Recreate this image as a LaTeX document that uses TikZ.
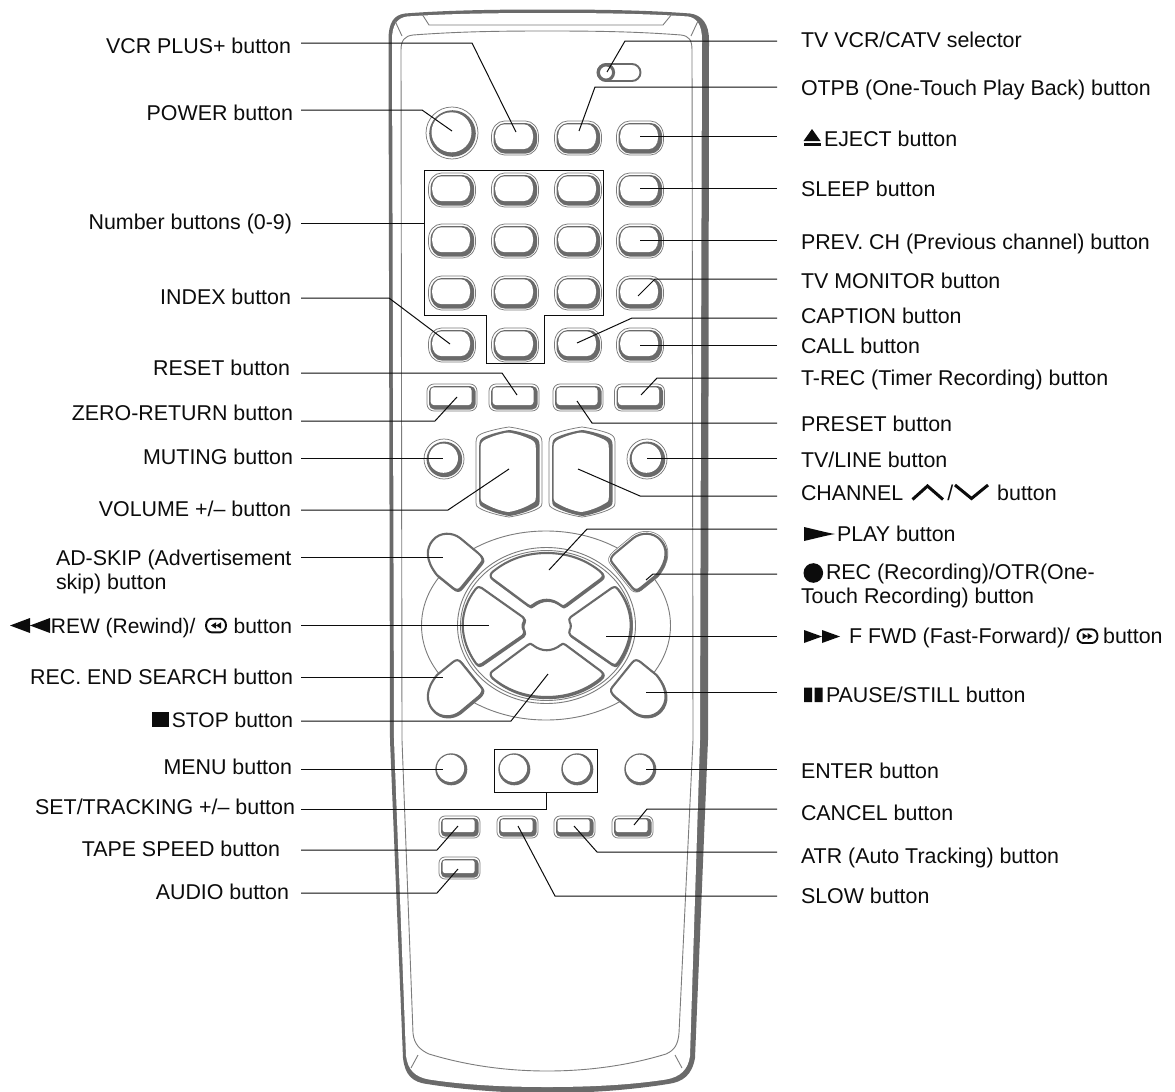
\documentclass[tikz,border=0pt]{standalone}
\usepackage{fontspec}
\setmainfont{Liberation Sans}
\definecolor{rimc}{HTML}{6A6A6A}
\definecolor{thinc}{HTML}{7C7C7C}
\definecolor{inkc}{HTML}{0C0C0C}
% rounded box shape, cx cy halfw halfh rx ry
\newcommand\rbox[6]{({#1-#3+#5},{#2-#4}) -- ({#1+#3-#5},{#2-#4})
 .. controls ({#1+#3-.45*#5},{#2-#4}) and ({#1+#3},{#2-#4+.45*#6}) .. ({#1+#3},{#2-#4+#6}) -- ({#1+#3},{#2+#4-#6})
 .. controls ({#1+#3},{#2+#4-.45*#6}) and ({#1+#3-.45*#5},{#2+#4}) .. ({#1+#3-#5},{#2+#4}) -- ({#1-#3+#5},{#2+#4})
 .. controls ({#1-#3+.45*#5},{#2+#4}) and ({#1-#3},{#2+#4-.45*#6}) .. ({#1-#3},{#2+#4-#6}) -- ({#1-#3},{#2-#4+#6})
 .. controls ({#1-#3},{#2-#4+.45*#6}) and ({#1-#3+.45*#5},{#2-#4}) .. ({#1-#3+#5},{#2-#4}) -- cycle}
% double-ring button: cx cy halfw halfh rx ry
\newcommand\rbtn[6]{
 \draw[thinline,fill=white] \rbox{#1}{#2}{#3}{#4}{#5}{#6};
 \fill[rimc] \rbox{#1+.3}{#2+.3}{(#3-1.7)}{(#4-1.7)}{(#5-1.5)}{(#6-1.5)};
 \fill[white] \rbox{#1-.9}{#2-1.3}{(#3-4.6)}{(#4-4.6)}{(#5-3.8)}{(#6-3.8)};}
\newcommand\pill[2]{\rbtn{#1}{#2}{23.5}{17}{13}{15}}
\newcommand\rectb[2]{\rbtn{#1}{#2}{25}{13.5}{7}{7}}
\newcommand\smallb[2]{\rbtn{#1}{#2}{20.5}{11}{6}{6}}
\newcommand\ringc[3]{
 \draw[thinline,fill=white] (#1,#2) circle (#3);
 \fill[rimc] (#1+.4,#2+.4) circle (#3-2.2);
 \fill[white] (#1-.6,#2-.8) circle (#3-5.4);}
\newcommand\plainc[2]{
 \fill[rimc] (#1+.3,#2+.3) circle (16);
 \fill[white] (#1-.5,#2-.7) circle (13.6);}
% volume/channel shape: cx a t b
\newcommand\vshape[4]{(#1-#2,#3+16) .. controls (#1-#2,#3+11) and (#1-#2+1,#3+9) .. (#1-#2+5,#3+7)
 .. controls (#1-#2+10,#3+4.5) and (#1-8,#3+1) .. (#1,#3)
 .. controls (#1+8,#3+1) and (#1+#2-10,#3+4.5) .. (#1+#2-5,#3+7)
 .. controls (#1+#2-1,#3+9) and (#1+#2,#3+11) .. (#1+#2,#3+16) -- (#1+#2,#4-15)
 .. controls (#1+#2,#4-11) and (#1+#2-1,#4-10) .. (#1+#2-5,#4-8)
 .. controls (#1+#2-10,#4-5) and (#1+8,#4-1) .. (#1,#4)
 .. controls (#1-8,#4-1) and (#1-#2+10,#4-5) .. (#1-#2+5,#4-8)
 .. controls (#1-#2+1,#4-10) and (#1-#2,#4-11) .. (#1-#2,#4-15) -- cycle}
\newcommand\volb[1]{
 \draw[thinline,fill=white] \vshape{#1}{33}{427}{517};
 \fill[rimc] \vshape{#1+.4}{30.2}{430}{516};
 \fill[white] \vshape{#1-.8}{27.6}{432.5}{512};}
\newcommand\cornerpath{(-68.7,-72) -- (-86.7,-87) .. controls (-94.7,-93) and (-106.7,-93) .. (-113.7,-85)
 .. controls (-120.7,-77) and (-121.7,-65) .. (-109.7,-50) -- (-93.7,-37)
 .. controls (-90.5,-34.5) and (-88,-34.5) .. (-85.5,-37.5) -- (-65.7,-62)
 .. controls (-63,-65) and (-64,-68) .. (-68.7,-72) -- cycle}
\newcommand\uplobe{(-53,-54) .. controls (-38,-66) and (-20,-72) .. (0,-72) .. controls (20,-72) and (38,-66) .. (53,-54)
 .. controls (57,-51) and (57,-48) .. (54,-46) -- (19,-20) .. controls (17,-18) and (15.5,-18.5) .. (14,-20)
 .. controls (5,-27) and (-5,-27) .. (-14,-20) .. controls (-15.5,-18.5) and (-17,-18) .. (-19,-20)
 -- (-54,-46) .. controls (-57,-48) and (-57,-51) .. (-53,-54) -- cycle}
\newcommand\leftlobe{(-71,-36) .. controls (-69,-38.5) and (-67,-38.5) .. (-65,-37) -- (-24,-8)
 .. controls (-22.5,-6.5) and (-22,-5) .. (-23,-3) .. controls (-24.5,-1) and (-24.5,3) .. (-23,5)
 .. controls (-22,7) and (-22.5,9) .. (-24,10.5) -- (-65,39) .. controls (-67,40.5) and (-69,40.5) .. (-71,38)
 .. controls (-79,27) and (-84,13) .. (-84,0) .. controls (-84,-13) and (-79,-26) .. (-71,-36) -- cycle}
% mirrored shape drawn with heavier lower-right side: sx sy path
\newcommand\solid[3]{
 \begin{scope}[shift={(547.6,626.1)},xscale=#1,yscale=#2]\draw[rimline] #3;\end{scope}
 \begin{scope}[shift={(546.7,625)},xscale=#1,yscale=#2]\draw[rimline,fill=white] #3;\end{scope}}
% cassette symbol: cx cy direction
\newcommand\cassette[3]{
 \draw[line width=1.9,inkc] \rbox{#1}{#2}{10}{6.8}{5.5}{6.8};
 \fill[inkc] (#1,#2-3.2) -- (#1+#3*5,#2) -- (#1,#2+3.2) -- cycle (#1-#3*5,#2-3.2) -- (#1,#2) -- (#1-#3*5,#2+3.2) -- cycle;}
\tikzset{
 thinline/.style={draw=thinc,line width=.75},
 rimline/.style={draw=rimc,line width=2.1,line join=round},
 hairline/.style={draw=thinc,line width=.9},
 leader/.style={draw=inkc,line width=1},
 lbl/.style={inner sep=0pt,outer sep=0pt,font=\fontsize{21.4}{24}\selectfont,text=inkc},
 lbe/.style={lbl,anchor=base east},
 lbw/.style={lbl,anchor=base west},
 nar/.style={font=\fontsize{21}{24}\selectfont},
 glyph/.style={fill=inkc,draw=none}
}
\begin{document}
\begin{tikzpicture}[x=1pt,y=-1pt]
\useasboundingbox (0,0) rectangle (1175,1092);
\fill[white] (0,0) rectangle (1175,1092);
% ---------- remote body
\fill[rimc] (388.5,40) .. controls (388.5,22) and (394,15) .. (405,13.5) .. controls (450,10) and (500,9.5) .. (547,9.5)
 .. controls (595,9.5) and (645,10) .. (690,13.5) .. controls (702,15) and (709,24) .. (709,40)
 -- (708,740) -- (695,1058) .. controls (692,1075) and (683,1082) .. (668,1084)
 .. controls (630,1090) and (590,1093) .. (547,1093) .. controls (505,1093) and (465,1090) .. (427,1084)
 .. controls (412,1082) and (405,1075) .. (403,1058) -- (390,740) -- cycle;
\fill[white] (392,40) .. controls (392,25) and (397,18) .. (407,16.5) .. controls (450,13.5) and (500,13) .. (547,13)
 .. controls (595,13) and (645,13.5) .. (688,16.5) .. controls (697,18) and (702,25) .. (702,40)
 -- (700,740) -- (690,1056) .. controls (688,1070) and (680,1077) .. (666,1079.5)
 .. controls (630,1085) and (590,1087) .. (547,1087) .. controls (505,1087) and (465,1085) .. (429,1079.5)
 .. controls (415,1077) and (408,1070) .. (406,1056) -- (394,740) -- cycle;
% panel line
\draw[hairline] (401,50) .. controls (401,40) and (405,36) .. (413,35) .. controls (460,31.5) and (500,31) .. (547,31)
 .. controls (595,31) and (635,31.5) .. (681,35) .. controls (689,36) and (692,40) .. (692,50)
 -- (693,740) -- (679,1033) .. controls (678,1044) and (675,1050) .. (666,1054)
 .. controls (630,1065) and (590,1071) .. (547,1071) .. controls (505,1071) and (465,1065) .. (429,1054)
 .. controls (420,1050) and (414,1044) .. (413,1033) -- (402,740) -- cycle;
\draw[hairline] (422,14) -- (429,25) -- (663,25) -- (672,14);
\draw[hairline] (395,21) -- (402,36) (698,21) -- (691,36);
\draw[hairline] (418,1055) -- (411,1068) (675,1055) -- (682,1068);
% ---------- selector
\draw[line width=1.9,draw=rimc,fill=white] \rbox{619}{72.5}{21.5}{8.5}{8.5}{8.5};
\draw[line width=3,draw=rimc,fill=white] (606,72.5) circle (7.6);
% ---------- top buttons
\draw[thinline,fill=white] (452,133) circle (26);
\fill[rimc] (452.5,133.5) circle (23.3);
\fill[white] (451.5,132.3) circle (20);
\pill{515}{138}\pill{578}{138}\pill{640}{138}
\pill{452}{190}\pill{515}{190}\pill{578}{190}\pill{640}{190}
\pill{452}{241}\pill{515}{241}\pill{578}{241}\pill{640}{241}
\pill{452}{293}\pill{515}{293}\pill{578}{293}\pill{640}{293}
\pill{452}{345}\pill{515}{345}\pill{578}{345}\pill{640}{345}
% ---------- rectangular row
\rectb{452}{397.5}\rectb{514}{397.5}\rectb{578}{397.5}\rectb{639.5}{397.5}
% ---------- muting / tv-line
\ringc{444}{459}{20}\ringc{647}{459}{20}
\volb{509}\volb{582}
% ---------- oval panel
\draw[hairline] (546,625.5) ellipse [x radius=124.5,y radius=94.5];
\draw[hairline] (546.5,625.5) ellipse [x radius=89,y radius=78];
\draw[hairline] (546.5,625.5) ellipse [x radius=86,y radius=75];
\solid{1}{1}{\cornerpath}
\solid{1}{-1}{\cornerpath}
\solid{-1}{-1}{\cornerpath}
\begin{scope}[shift={(546.7,625)},xscale=-1]
 \draw[draw=thinc,line width=5.4,line join=round] \cornerpath;
 \draw[draw=white,line width=3.9,line join=round] \cornerpath;
\end{scope}
\solid{-1}{1}{\cornerpath}
\solid{1}{1}{\uplobe}
\solid{1}{-1}{\uplobe}
\solid{1}{1}{\leftlobe}
\solid{-1}{1}{\leftlobe}
% ---------- lower buttons
\plainc{451}{769}\plainc{514}{769}\plainc{577}{769}\plainc{640}{769}
\smallb{459.5}{827}\smallb{517.5}{827}\smallb{574.5}{827}\smallb{632.5}{827}
\smallb{459.5}{868}
% ---------- group frames
\draw[leader] (424,170) coordinate (fa) -- (603,170) -- (603,315) -- (544,315) -- (544,363) -- (486,363) -- (486,315) -- (424,315) -- cycle;
\draw[leader] (494,749) rectangle (597,792);
% ---------- left labels
\node[lbe] (lVCR) at (291,53) {VCR PLUS+ button};
\node[lbe] (lPOW) at (293,120) {POWER button};
\node[lbe] (lNUM) at (292,229) {Number buttons (0-9)};
\node[lbe] (lIDX) at (291,304) {INDEX button};
\node[lbe] (lRST) at (290,375) {RESET button};
\node[lbe] (lZER) at (293,420) {ZERO-RETURN button};
\node[lbe] (lMUT) at (293,464) {MUTING button};
\node[lbe] (lVOL) at (291,516) {VOLUME +/– button};
\node[lbw] (lAD) at (56,565) {AD-SKIP (Advertisement};
\node[lbw] (lAD2) at (56,589) {skip) button};
\node[lbe,nar] (lREW) at (292,633) {REW (Rewind)/\hspace{38pt}button};
\node[lbe] (lEND) at (293,684) {REC. END SEARCH button};
\node[lbe,nar] (lSTP) at (293,727) {STOP button};
\node[lbe] (lMEN) at (292,774) {MENU button};
\node[lbe] (lSET) at (295,814) {SET/TRACKING +/– button};
\node[lbe] (lTAP) at (280,856) {TAPE SPEED button};
\node[lbe] (lAUD) at (289,899) {AUDIO button};
% ---------- right labels
\node[lbw] (rTV) at (801,47) {TV VCR/CATV selector};
\node[lbw] (rOTP) at (801,95) {OTPB (One-Touch Play Back) button};
\node[lbw] (rEJE) at (824,146) {EJECT button};
\node[lbw] (rSLP) at (801,196) {SLEEP button};
\node[lbw] (rPRV) at (801,249) {PREV. CH (Previous channel) button};
\node[lbw] (rMON) at (801,288) {TV MONITOR button};
\node[lbw] (rCAP) at (801,323) {CAPTION button};
\node[lbw] (rCAL) at (801,353) {CALL button};
\node[lbw] (rTRE) at (801,385) {T-REC (Timer Recording) button};
\node[lbw] (rPRE) at (801,431) {PRESET button};
\node[lbw] (rLIN) at (801,467) {TV/LINE button};
\node[lbw] (rCHA) at (801,500) {CHANNEL\hspace{44pt}/\hspace{44pt}button};
\node[lbw] (rPLA) at (837,541) {PLAY button};
\node[lbw] (rREC) at (826,579) {REC (Recording)/OTR(One-};
\node[lbw] (rRE2) at (801,603) {Touch Recording) button};
\node[lbw] (rFWD) at (849,643) {F FWD (Fast-Forward)/\hspace{33pt}button};
\node[lbw] (rPAU) at (826,702) {PAUSE/STILL button};
\node[lbw] (rENT) at (801,778) {ENTER button};
\node[lbw] (rCAN) at (801,820) {CANCEL button};
\node[lbw] (rATR) at (801,863) {ATR (Auto Tracking) button};
\node[lbw] (rSLO) at (801,903) {SLOW button};
% ---------- symbols in labels
\fill[glyph] (812,129) -- (820.5,141) -- (803.5,141) -- cycle;
\fill[glyph] (803.5,143.3) rectangle (820.5,146);
\draw[inkc,line width=3,miter limit=10] (912.5,499.5) -- (927.5,486) -- (943,499.5);
\draw[inkc,line width=3,miter limit=10] (955,485) -- (971.5,498.5) -- (988,485);
\fill[glyph] (804,527) .. controls (815,529.5) and (826,532.5) .. (835,534) .. controls (826,535.5) and (815,538.5) .. (804,541) -- cycle;
\fill[glyph] (813.3,573) circle (9.8);
\fill[glyph] (804,630) -- (822,636.5) -- (804,643) -- cycle (822,630) -- (840,636.5) -- (822,643) -- cycle;
\cassette{1087.5}{636.2}{1}
\fill[glyph] (804,687.5) rectangle (812,702) (814.5,687.5) rectangle (822.5,702);
\fill[glyph] (152,712) rectangle (169,727);
\fill[glyph] (30,618) -- (10,625.5) -- (30,633) -- cycle (50,618) -- (30,625.5) -- (50,633) -- cycle;
\cassette{216}{625.5}{-1}
% ---------- leaders, left
\coordinate (sa1) at (301,43); \coordinate (ba1) at (472,43); \coordinate (ea1) at (516,132);
\draw[leader] (sa1) -- (ba1) -- (ea1);
\coordinate (sa2) at (301,110); \coordinate (ba2) at (422,110); \coordinate (ea2) at (452,131);
\draw[leader] (sa2) -- (ba2) -- (ea2);
\coordinate (sa3) at (301,223); \coordinate (ea3) at (424,223);
\draw[leader] (sa3) -- (ea3);
\coordinate (sa4) at (301,298); \coordinate (ba4) at (389,298); \coordinate (ea4) at (450,344);
\draw[leader] (sa4) -- (ba4) -- (ea4);
\coordinate (sa5) at (301,373); \coordinate (ba5) at (502,373); \coordinate (ea5) at (517,395);
\draw[leader] (sa5) -- (ba5) -- (ea5);
\coordinate (sa6) at (301,421); \coordinate (ba6) at (435,421); \coordinate (ea6) at (457,397);
\draw[leader] (sa6) -- (ba6) -- (ea6);
\coordinate (sa7) at (301,458); \coordinate (ea7) at (443,458);
\draw[leader] (sa7) -- (ea7);
\coordinate (sa8) at (301,510); \coordinate (ba8) at (448,510); \coordinate (ea8) at (509,469);
\draw[leader] (sa8) -- (ba8) -- (ea8);
\coordinate (sa9) at (301,557); \coordinate (ea9) at (443,557);
\draw[leader] (sa9) -- (ea9);
\coordinate (sa10) at (301,625); \coordinate (ea10) at (489,625);
\draw[leader] (sa10) -- (ea10);
\coordinate (sa11) at (301,677); \coordinate (ea11) at (443,677);
\draw[leader] (sa11) -- (ea11);
\coordinate (sa12) at (301,721); \coordinate (ba12) at (511,721); \coordinate (ea12) at (548,674);
\draw[leader] (sa12) -- (ba12) -- (ea12);
\coordinate (sa13) at (301,769); \coordinate (ea13) at (443,769);
\draw[leader] (sa13) -- (ea13);
\coordinate (sa14) at (301,809); \coordinate (ba14) at (546,809); \coordinate (ea14) at (546,792);
\draw[leader] (sa14) -- (ba14) -- (ea14);
\coordinate (sa15) at (301,850); \coordinate (ba15) at (437,850); \coordinate (ea15) at (458,826);
\draw[leader] (sa15) -- (ba15) -- (ea15);
\coordinate (sa16) at (301,893); \coordinate (ba16) at (437,893); \coordinate (ea16) at (458,869);
\draw[leader] (sa16) -- (ba16) -- (ea16);
% ---------- leaders, right
\coordinate (sb1) at (777,41); \coordinate (bb1) at (625,41); \coordinate (eb1) at (607,72);
\draw[leader] (sb1) -- (bb1) -- (eb1);
\coordinate (sb2) at (777,87); \coordinate (bb2) at (595,87); \coordinate (eb2) at (579,131);
\draw[leader] (sb2) -- (bb2) -- (eb2);
\coordinate (sb3) at (777,136); \coordinate (eb3) at (640,136);
\draw[leader] (sb3) -- (eb3);
\coordinate (sb4) at (777,188); \coordinate (eb4) at (640,188);
\draw[leader] (sb4) -- (eb4);
\coordinate (sb5) at (777,240); \coordinate (eb5) at (640,240);
\draw[leader] (sb5) -- (eb5);
\coordinate (sb6) at (777,279); \coordinate (bb6) at (655,279); \coordinate (eb6) at (638,296);
\draw[leader] (sb6) -- (bb6) -- (eb6);
\coordinate (sb7) at (777,318); \coordinate (bb7) at (632,318); \coordinate (eb7) at (577,343);
\draw[leader] (sb7) -- (bb7) -- (eb7);
\coordinate (sb8) at (777,345); \coordinate (eb8) at (640,345);
\draw[leader] (sb8) -- (eb8);
\coordinate (sb9) at (777,378); \coordinate (bb9) at (657,378); \coordinate (eb9) at (641,395);
\draw[leader] (sb9) -- (bb9) -- (eb9);
\coordinate (sb10) at (777,423); \coordinate (bb10) at (592,423); \coordinate (eb10) at (577,401);
\draw[leader] (sb10) -- (bb10) -- (eb10);
\coordinate (sb11) at (777,458); \coordinate (eb11) at (647,458);
\draw[leader] (sb11) -- (eb11);
\coordinate (sb12) at (777,496); \coordinate (bb12) at (640,496); \coordinate (eb12) at (578,469);
\draw[leader] (sb12) -- (bb12) -- (eb12);
\coordinate (sb13) at (777,529); \coordinate (bb13) at (587,529); \coordinate (eb13) at (549,570);
\draw[leader] (sb13) -- (bb13) -- (eb13);
\coordinate (sb14) at (777,574); \coordinate (bb14) at (653,574); \coordinate (eb14) at (646,580);
\draw[leader] (sb14) -- (bb14) -- (eb14);
\coordinate (sb15) at (777,636); \coordinate (eb15) at (606,636);
\draw[leader] (sb15) -- (eb15);
\coordinate (sb16) at (777,692); \coordinate (eb16) at (646,692);
\draw[leader] (sb16) -- (eb16);
\coordinate (sb17) at (777,769); \coordinate (eb17) at (646,769);
\draw[leader] (sb17) -- (eb17);
\coordinate (sb18) at (777,809); \coordinate (bb18) at (647,809); \coordinate (eb18) at (634,825);
\draw[leader] (sb18) -- (bb18) -- (eb18);
\coordinate (sb19) at (777,852); \coordinate (bb19) at (597,852); \coordinate (eb19) at (574,826);
\draw[leader] (sb19) -- (bb19) -- (eb19);
\coordinate (sb20) at (777,896); \coordinate (bb20) at (555,896); \coordinate (eb20) at (518,826);
\draw[leader] (sb20) -- (bb20) -- (eb20);
\end{tikzpicture}
\end{document}
